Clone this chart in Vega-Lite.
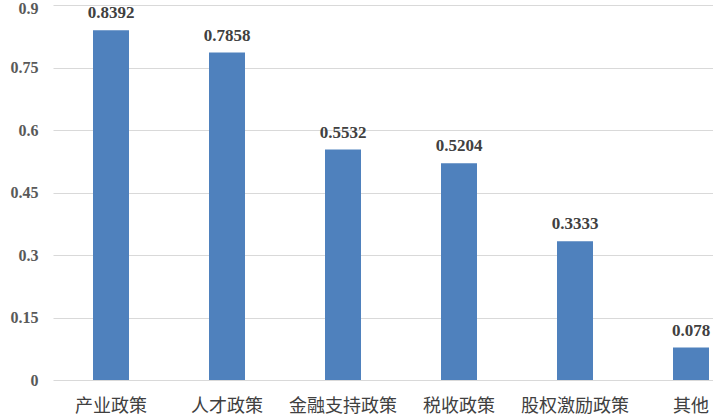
{
  "$schema": "https://vega.github.io/schema/vega-lite/v6.json",
  "width": 696,
  "height": 375,
  "autosize": "none",
  "padding": {"left": 53, "top": 5, "right": 0, "bottom": 38},
  "config": {"view": {"stroke": null}},
  "data": {"values": [
    {"cat": "产业政策", "v": 0.8392, "lbl": "0.8392"},
    {"cat": "人才政策", "v": 0.7858, "lbl": "0.7858"},
    {"cat": "金融支持政策", "v": 0.5532, "lbl": "0.5532"},
    {"cat": "税收政策", "v": 0.5204, "lbl": "0.5204"},
    {"cat": "股权激励政策", "v": 0.3333, "lbl": "0.3333"},
    {"cat": "其他", "v": 0.078, "lbl": "0.078"}
  ]},
  "encoding": {
    "x": {"field": "cat", "type": "nominal", "sort": null, "scale": {"paddingInner": 0.69, "paddingOuter": 0.345},
      "axis": {"title": null, "labelAngle": 0, "domain": false, "ticks": false, "labelFont": "Noto Sans CJK SC", "labelFontSize": 18, "labelColor": "#404040", "labelPadding": 17}},
    "y": {"field": "v", "type": "quantitative", "scale": {"domain": [0, 0.9], "nice": false},
      "axis": {"title": null, "values": [0, 0.15, 0.3, 0.45, 0.6, 0.75, 0.9], "labelExpr": "toString(datum.value)", "labelOffset": {"condition": {"test": "datum.value >= 0.9", "value": 3}, "value": 0}, "domain": false, "ticks": false, "gridColor": "#d9d9d9", "gridWidth": 1, "labelFont": "Liberation Serif", "labelFontWeight": "bold", "labelFontSize": 16, "labelColor": "#595959", "labelPadding": 15}}
  },
  "layer": [
    {"mark": {"type": "bar", "color": "#4f81bd", "width": 36}},
    {"mark": {"type": "text", "dy": -8, "font": "Liberation Serif", "fontWeight": "bold", "fontSize": 17, "color": "#404040", "baseline": "bottom"},
     "encoding": {"text": {"field": "lbl"}}}
  ]
}
